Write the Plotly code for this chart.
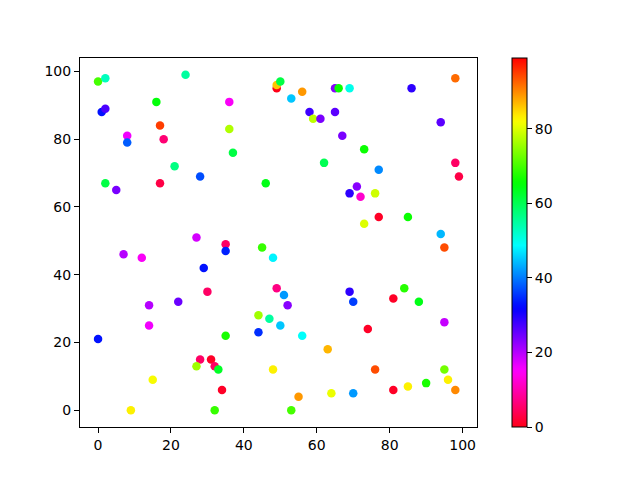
import numpy as np
import plotly.graph_objects as go

x_vals = [0, 2, 24, 1, 2, 16, 36, 17, 8, 8, 18, 36, 37, 21, 28, 2, 5, 17, 46, 27,
          35, 35, 45, 48, 7, 12, 29, 30, 49, 14, 22, 14, 44, 47, 50, 44, 0, 35, 28, 31,
          27, 32, 33, 48, 15, 34, 9, 32, 49, 49, 50, 53, 56, 65, 66, 69, 86, 98, 58, 59,
          61, 65, 67, 73, 62, 77, 94, 98, 99, 71, 69, 72, 76, 77, 85, 73, 94, 95, 51, 52,
          56, 63, 55, 53, 64, 70, 69, 70, 81, 84, 88, 74, 95, 76, 81, 85, 90, 95, 96, 98]
y_vals = [97, 98, 99, 88, 89, 91, 91, 84, 81, 79, 80, 83, 76, 72, 69, 67, 65, 67, 67, 51,
          49, 47, 48, 45, 46, 45, 42, 35, 36, 31, 32, 25, 28, 27, 25, 23, 21, 22, 15, 15,
          13, 13, 12, 12, 9, 6, 0, 0, 95, 96, 97, 92, 94, 95, 95, 95, 95, 98, 88, 86,
          86, 88, 81, 77, 73, 71, 85, 73, 69, 66, 64, 63, 64, 57, 57, 55, 52, 48, 34, 31,
          22, 18, 4, 0, 5, 5, 35, 32, 33, 36, 32, 24, 26, 12, 6, 7, 8, 12, 9, 6]
c_vals = [70, 53, 55, 33, 27, 65, 15, 95, 16, 38, 6, 77, 61, 57, 37, 61, 24, 3, 64, 18,
          5, 34, 69, 48, 20, 15, 33, 5, 7, 20, 25, 16, 76, 55, 45, 35, 33, 67, 5, 1,
          76, 5, 63, 83, 82, 1, 83, 69, 0, 86, 61, 45, 89, 23, 66, 50, 29, 92, 28, 78,
          24, 26, 24, 66, 60, 41, 26, 5, 3, 23, 29, 12, 79, 1, 66, 80, 44, 94, 42, 23,
          49, 87, 89, 70, 81, 42, 29, 36, 1, 68, 64, 1, 19, 94, 1, 83, 67, 73, 83, 90]
cbar_ticks = [0, 20, 40, 60, 80]

# matplotlib 'hsv' colormap segment data
_hsv = {
    'red': [(0.0, 1.0), (0.158730, 1.0), (0.174603, 0.96875), (0.333333, 0.03125),
            (0.349206, 0.0), (0.666667, 0.0), (0.682540, 0.03125), (0.841270, 0.96875),
            (0.857143, 1.0), (1.0, 1.0)],
    'green': [(0.0, 0.0), (0.158730, 0.9375), (0.174603, 1.0), (0.507937, 1.0),
              (0.666667, 0.0625), (0.682540, 0.0), (1.0, 0.0)],
    'blue': [(0.0, 0.0), (0.333333, 0.0), (0.349206, 0.0625), (0.507937, 1.0),
             (0.841270, 1.0), (0.857143, 0.9375), (1.0, 0.09375)],
}
ts = np.linspace(0, 1, 129)
chan = {}
for k, pts in _hsv.items():
    xs = [p[0] for p in pts]
    vs = [p[1] for p in pts]
    chan[k] = np.interp(1 - ts, xs, vs)  # reversed -> hsv_r
colorscale = [[float(t), 'rgb(%d,%d,%d)' % (round(chan['red'][i] * 255),
                                             round(chan['green'][i] * 255),
                                             round(chan['blue'][i] * 255))]
              for i, t in enumerate(ts)]

fig = go.Figure(go.Scatter(
    x=x_vals, y=y_vals, mode='markers',
    marker=dict(size=8.5, color=c_vals, colorscale=colorscale, cmin=0, cmax=99,
                line=dict(width=0),
                colorbar=dict(x=1.063, xanchor='left', y=0.5, yanchor='middle',
                              len=1, lenmode='fraction', thickness=15, ypad=0,
                              outlinewidth=1, outlinecolor='black',
                              tickvals=cbar_ticks, ticks='outside', ticklen=5,
                              tickcolor='black', tickfont=dict(size=14, color='black')))
))

axis_common = dict(showgrid=False, zeroline=False, showline=True, linecolor='black',
                   linewidth=1, mirror=True, ticks='outside', ticklen=5, tickwidth=1,
                   tickcolor='black', tickfont=dict(size=14, color='black'))
fig.update_xaxes(range=[-4.95, 103.95], tickvals=[0, 20, 40, 60, 80, 100], **axis_common)
fig.update_yaxes(range=[-4.95, 103.95], tickvals=[0, 20, 40, 60, 80, 100], **axis_common)
fig.update_layout(width=640, height=480, plot_bgcolor='white', paper_bgcolor='white',
                  margin=dict(l=80, r=163, t=58, b=53), showlegend=False,
                  font=dict(family='DejaVu Sans'))
fig.write_html('out.html', config={'displayModeBar': False},
               post_script="document.body.style.margin='0';document.body.style.padding='0';")
